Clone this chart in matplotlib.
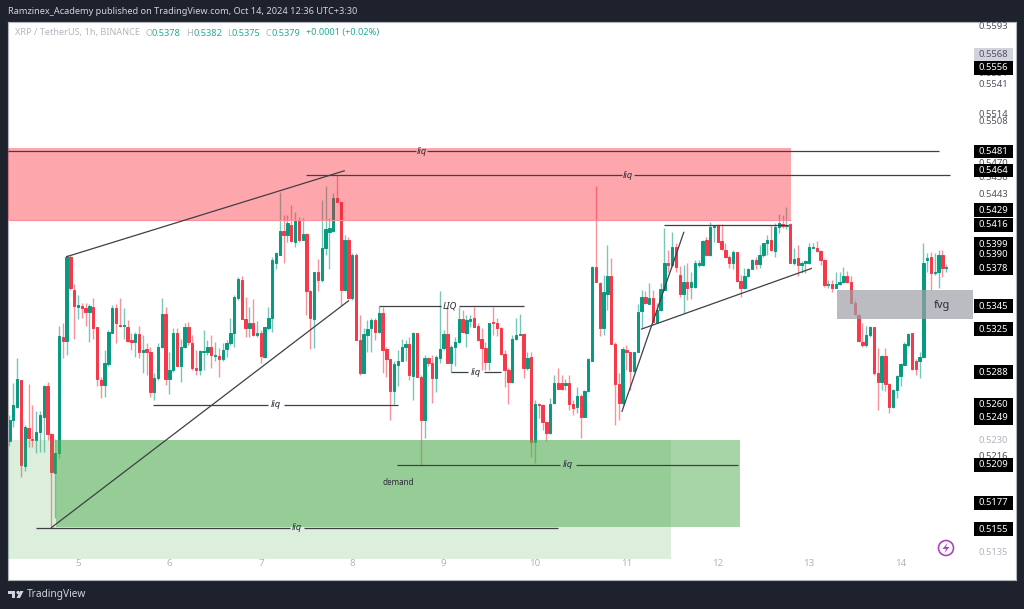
import matplotlib
matplotlib.use("Agg")
import matplotlib.pyplot as plt
from matplotlib.patches import Rectangle, Polygon, Circle
from matplotlib.ticker import NullLocator
from matplotlib.transforms import blended_transform_factory
import numpy as np

plt.rcParams['font.family'] = ['Noto Sans', 'DejaVu Sans']

# XRP/USDT 1h, one candle per hour starting on the 4th at 06:00
first_day = 4.25
opens = [
 .5229,.5247,.5258,.5281,.5208,.5240,.5231,.5230,.5237,.5250,.5276,.5235,.5202,.5219,.5318,.5315,.5388,.5359,.5344,.5345,
 .5343,.5340,.5344,.5327,.5281,.5277,.5295,.5322,.5343,.5329,.5328,.5327,.5316,.5314,.5321,.5305,.5308,.5305,.5271,.5283,
 .5310,.5338,.5282,.5290,.5322,.5293,.5310,.5327,.5313,.5292,.5290,.5305,.5305,.5310,.5302,.5302,.5299,.5308,.5313,.5322,
 .5352,.5368,.5334,.5326,.5330,.5320,.5322,.5301,.5326,.5335,.5383,.5390,.5411,.5407,.5416,.5401,.5420,.5403,.5408,.5358,
 .5334,.5375,.5368,.5396,.5410,.5411,.5440,.5436,.5359,.5403,.5352,.5390,.5316,.5287,.5320,.5326,.5333,.5323,.5339,.5308,
 .5299,.5272,.5294,.5298,.5310,.5312,.5285,.5322,.5284,.5247,.5300,.5296,.5283,.5300,.5309,.5321,.5296,.5310,.5314,.5334,
 .5322,.5332,.5335,.5328,.5317,.5309,.5297,.5331,.5330,.5326,.5304,.5290,.5280,.5317,.5320,.5321,.5292,.5301,.5228,.5261,
 .5260,.5245,.5236,.5262,.5279,.5279,.5277,.5279,.5261,.5258,.5268,.5250,.5272,.5298,.5379,.5365,.5326,.5356,.5371,.5312,
 .5278,.5262,.5307,.5305,.5289,.5305,.5341,.5353,.5347,.5352,.5331,.5342,.5359,.5383,.5381,.5397,.5372,.5356,.5366,.5362,
 .5362,.5381,.5381,.5403,.5390,.5414,.5416,.5402,.5394,.5388,.5383,.5392,.5367,.5361,.5371,.5377,.5385,.5382,.5390,.5400,
 .5403,.5393,.5414,.5417,.5415,.5417,.5383,.5387,.5381,.5383,.5383,.5396,.5396,.5393,.5385,.5363,.5364,.5361,.5364,.5366,
 .5371,.5366,.5348,.5337,.5314,.5311,.5320,.5327,.5287,.5280,.5302,.5278,.5258,.5273,.5285,.5294,.5311,.5322,.5298,.5298,
 .5301,.5385,.5388,.5374,.5375,.5390,.5378]
highs = [
 .5251,.5279,.5300,.5281,.5243,.5278,.5260,.5255,.5255,.5277,.5280,.5236,.5231,.5328,.5330,.5390,.5390,.5364,.5355,.5348,
 .5348,.5347,.5352,.5327,.5284,.5307,.5324,.5346,.5347,.5352,.5343,.5333,.5322,.5323,.5328,.5320,.5313,.5310,.5287,.5313,
 .5352,.5344,.5305,.5326,.5326,.5317,.5330,.5331,.5320,.5307,.5307,.5324,.5316,.5320,.5314,.5309,.5313,.5316,.5335,.5355,
 .5370,.5371,.5353,.5344,.5351,.5332,.5324,.5327,.5344,.5388,.5392,.5445,.5425,.5425,.5434,.5427,.5423,.5422,.5409,.5359,
 .5375,.5386,.5438,.5450,.5422,.5444,.5460,.5436,.5407,.5405,.5391,.5391,.5337,.5326,.5333,.5335,.5335,.5345,.5344,.5310,
 .5299,.5298,.5307,.5317,.5316,.5318,.5323,.5322,.5286,.5303,.5301,.5303,.5303,.5358,.5324,.5344,.5311,.5318,.5344,.5342,
 .5337,.5337,.5344,.5330,.5326,.5314,.5330,.5344,.5335,.5327,.5307,.5292,.5320,.5335,.5338,.5322,.5305,.5305,.5264,.5262,
 .5261,.5245,.5266,.5286,.5292,.5286,.5282,.5286,.5264,.5275,.5269,.5273,.5300,.5380,.5450,.5366,.5372,.5398,.5387,.5314,
 .5287,.5310,.5311,.5305,.5305,.5347,.5359,.5358,.5365,.5359,.5348,.5365,.5413,.5394,.5410,.5400,.5380,.5381,.5383,.5375,
 .5385,.5385,.5403,.5405,.5419,.5416,.5417,.5417,.5400,.5390,.5394,.5392,.5372,.5378,.5378,.5386,.5388,.5398,.5400,.5407,
 .5416,.5418,.5426,.5425,.5432,.5418,.5396,.5398,.5384,.5385,.5400,.5400,.5402,.5394,.5386,.5368,.5368,.5375,.5375,.5379,
 .5376,.5371,.5350,.5338,.5330,.5328,.5328,.5327,.5309,.5303,.5309,.5279,.5274,.5286,.5296,.5314,.5322,.5322,.5299,.5305,
 .5400,.5391,.5392,.5391,.5394,.5394,.5382]
lows = [
 .5225,.5241,.5257,.5199,.5204,.5224,.5224,.5219,.5220,.5220,.5230,.5156,.5164,.5215,.5300,.5303,.5359,.5317,.5334,.5335,
 .5328,.5314,.5317,.5276,.5266,.5267,.5293,.5322,.5313,.5327,.5317,.5314,.5307,.5301,.5300,.5287,.5286,.5267,.5264,.5281,
 .5309,.5277,.5269,.5288,.5293,.5280,.5309,.5311,.5290,.5286,.5286,.5290,.5303,.5292,.5298,.5284,.5298,.5301,.5311,.5310,
 .5350,.5334,.5318,.5318,.5319,.5318,.5296,.5300,.5324,.5323,.5377,.5390,.5383,.5401,.5401,.5397,.5401,.5403,.5337,.5308,
 .5309,.5358,.5366,.5390,.5377,.5410,.5436,.5346,.5358,.5351,.5350,.5316,.5286,.5287,.5305,.5305,.5316,.5322,.5287,.5284,
 .5247,.5261,.5276,.5298,.5298,.5281,.5264,.5284,.5209,.5232,.5293,.5262,.5271,.5296,.5307,.5296,.5288,.5293,.5313,.5322,
 .5310,.5327,.5327,.5315,.5290,.5290,.5290,.5320,.5319,.5303,.5275,.5261,.5279,.5316,.5320,.5283,.5290,.5216,.5211,.5249,
 .5239,.5229,.5235,.5261,.5274,.5273,.5273,.5256,.5251,.5253,.5232,.5250,.5271,.5298,.5366,.5319,.5320,.5342,.5312,.5243,
 .5247,.5260,.5290,.5273,.5288,.5305,.5326,.5347,.5347,.5330,.5330,.5341,.5358,.5375,.5379,.5375,.5353,.5339,.5350,.5351,
 .5361,.5379,.5380,.5389,.5389,.5401,.5401,.5394,.5387,.5378,.5377,.5366,.5353,.5360,.5370,.5377,.5377,.5378,.5388,.5390,
 .5393,.5388,.5409,.5413,.5412,.5383,.5381,.5371,.5374,.5374,.5382,.5396,.5392,.5381,.5362,.5361,.5357,.5361,.5363,.5365,
 .5365,.5347,.5337,.5314,.5310,.5310,.5318,.5286,.5256,.5273,.5272,.5253,.5257,.5266,.5276,.5294,.5310,.5290,.5286,.5283,
 .5300,.5375,.5359,.5372,.5361,.5370,.5375]
closes = [
 .5247,.5260,.5282,.5209,.5241,.5232,.5230,.5237,.5251,.5276,.5235,.5203,.5219,.5319,.5315,.5388,.5361,.5345,.5346,.5343,
 .5340,.5345,.5326,.5282,.5277,.5296,.5323,.5343,.5330,.5328,.5329,.5315,.5314,.5321,.5305,.5307,.5305,.5271,.5283,.5310,
 .5338,.5282,.5290,.5322,.5293,.5310,.5327,.5314,.5292,.5290,.5306,.5306,.5310,.5303,.5303,.5299,.5307,.5313,.5322,.5353,
 .5369,.5334,.5326,.5330,.5320,.5322,.5302,.5327,.5335,.5385,.5391,.5411,.5407,.5418,.5402,.5420,.5403,.5408,.5358,.5335,
 .5375,.5368,.5396,.5412,.5413,.5440,.5436,.5359,.5403,.5352,.5390,.5316,.5287,.5321,.5325,.5333,.5323,.5339,.5307,.5299,
 .5272,.5295,.5298,.5310,.5312,.5286,.5322,.5284,.5247,.5300,.5296,.5283,.5301,.5308,.5321,.5296,.5310,.5314,.5334,.5323,
 .5333,.5334,.5327,.5316,.5309,.5297,.5330,.5330,.5326,.5304,.5290,.5280,.5317,.5320,.5321,.5292,.5300,.5228,.5261,.5260,
 .5245,.5236,.5261,.5279,.5274,.5274,.5279,.5261,.5257,.5268,.5250,.5272,.5299,.5379,.5366,.5326,.5357,.5371,.5312,.5278,
 .5262,.5308,.5305,.5289,.5305,.5340,.5353,.5348,.5352,.5331,.5342,.5360,.5383,.5381,.5397,.5379,.5356,.5366,.5361,.5366,
 .5383,.5383,.5402,.5390,.5414,.5415,.5401,.5395,.5388,.5383,.5392,.5367,.5361,.5371,.5377,.5385,.5382,.5390,.5400,.5403,
 .5394,.5414,.5418,.5415,.5416,.5383,.5386,.5381,.5383,.5384,.5397,.5397,.5393,.5385,.5363,.5364,.5361,.5364,.5366,.5371,
 .5366,.5348,.5338,.5315,.5311,.5320,.5327,.5287,.5280,.5302,.5278,.5258,.5273,.5285,.5295,.5312,.5321,.5291,.5291,.5301,
 .5383,.5387,.5374,.5375,.5390,.5378,.5379]

# drawn zones: day from, day to, price low, price high
supply_zone = (4.2, 12.80, .5420, .5484)
demand_dark = (4.76, 12.24, .5157, .5230)
demand_light = (4.2, 11.49, .5130, .5230)
fvg_zone = (13.30, 14.79, .5334, .5359)

# trend lines (day, price, day, price)
trend_lines = [
    (4.869, .5388, 7.92, .5464),
    (4.705, .5156, 7.965, .5350),
    (10.95, .5254, 11.63, .5410),
    (11.16, .5325, 13.03, .5378),
    (11.41, .5416, 12.77, .5416),
]
# horizontal lines with a label in a gap: price, day from, gap from, gap to, day to, text
liq_lines = [
    (.5481, 4.234, 8.70, 8.82, 14.42, 'liq'),
    (.5460, 7.495, 10.95, 11.08, 14.54, 'liq'),
    (.5345, 8.293, 8.97, 9.17, 9.88, 'LIQ'),
    (.5288, 9.08, 9.27, 9.44, 9.63, 'liq'),
    (.5260, 5.82, 7.08, 7.25, 8.50, 'liq'),
    (.5209, 8.49, 10.27, 10.45, 12.22, 'liq'),
    (.5156, 4.54, 7.32, 7.47, 10.25, 'liq'),
]

# price axis labels
plain_labels = ['0.5593', '0.5541', '0.5514', '0.5508', '0.5551', '0.5470', '0.5458', '0.5443',
                '0.5347', '0.5321', '0.5216', '0.5205']
faint_labels = ['0.5230', '0.5135']
black_labels = ['0.5556', '0.5481', '0.5464', '0.5429', '0.5416', '0.5399', '0.5390', '0.5378',
                '0.5345', '0.5325', '0.5288', '0.5260', '0.5249', '0.5209', '0.5177', '0.5155']
day_ticks = [5, 6, 7, 8, 9, 10, 11, 12, 13, 14]

W, H = 1024, 609
bg = '#1e222d'
up = '#089981'
down = '#f7374a'

fig = plt.figure(figsize=(W / 100, H / 100), dpi=100, facecolor=bg)
ax = fig.add_axes([8 / W, (H - 580) / H, 1008 / W, 558 / H])
ax.set_yscale('log')
ax.set_xlim(4.234, 15.263)
ax.set_ylim(.51125, .55975)
ax.yaxis.set_major_locator(NullLocator())
ax.yaxis.set_minor_locator(NullLocator())
ax.set_xticks(day_ticks, [str(d) for d in day_ticks])
ax.tick_params(axis='x', length=0, direction='in', pad=-15, labelsize=7, labelcolor='#b2b5be')
for s in ax.spines.values():
    s.set_color('#b2b5be')
    s.set_linewidth(0.8)

# candles
t = first_day + np.arange(len(opens)) / 24
o, h, l, c = map(np.array, (opens, highs, lows, closes))
cols = [up if b >= a else down for a, b in zip(o, c)]
ax.vlines(t, l, h, colors=cols, linewidth=1.0, alpha=0.55, zorder=2)
ax.bar(t, np.abs(c - o), bottom=np.minimum(o, c), width=0.62 / 24, color=cols,
       edgecolor=cols, linewidth=0.7, zorder=2.5)


def zone(z, color, alpha, zo=3):
    ax.add_patch(Rectangle((z[0], z[2]), z[1] - z[0], z[3] - z[2], facecolor=color,
                           alpha=alpha, edgecolor='none', zorder=zo))


zone(supply_zone, '#fa2334', 0.4)
ax.hlines(supply_zone[2], supply_zone[0], supply_zone[1], color='#f88e97', lw=0.8, zorder=3)
zone(demand_light, '#51ad51', 0.195)
zone(demand_dark, '#51ad51', 0.5)
zone(fvg_zone, '#9f9fa8', 0.7)

line_col = '#3f3f46'
for x0, y0, x1, y1 in trend_lines:
    ax.plot([x0, x1], [y0, y1], color=line_col, lw=0.9, zorder=4, solid_capstyle='butt')
for price, a, g0, g1, b, txt in liq_lines:
    ax.hlines([price, price], [a, g1], [g0, b], color=line_col, lw=0.9, zorder=4)
    ax.text((g0 + g1) / 2, price, txt, ha='center', va='center', fontsize=6.8, style='italic',
            color='#2a2e39', zorder=5)
ax.text(8.50, .5194, 'demand', ha='center', va='center', fontsize=5.8, color='#2a2e39', zorder=5)
ax.text(14.45, .5346, 'fvg', ha='center', va='center', fontsize=8, color='#2a2e39', zorder=5)

# right hand price scale
tr = blended_transform_factory(ax.transAxes, ax.transData)
lab_x = (993 - 8) / 1008
for s in plain_labels:
    ax.text(lab_x, float(s), s, transform=tr, ha='center', va='center', fontsize=6.8,
            color='#50535e', zorder=6)
for s in faint_labels:
    ax.text(lab_x, float(s), s, transform=tr, ha='center', va='center', fontsize=6.8,
            color='#b2b5be', zorder=6)


def price_box(price, color, zo):
    # box of fixed pixel size on the scale
    yd = ax.transData.transform((5, price))[1]
    ax.add_patch(Rectangle((974, yd - 6.8), 39, 13.6, transform=None, fc=color, ec='none',
                           zorder=zo, clip_on=False))


price_box(.5568, '#d1d4dc', 7)
ax.text(lab_x, .5568, '0.5568', transform=tr, ha='center', va='center', fontsize=6.8, color='#50535e',
        zorder=7.5)
for s in black_labels:
    price_box(float(s), 'black', 8)
for s in black_labels:
    ax.text(lab_x, float(s), s, transform=tr, ha='center', va='center', fontsize=6.8, color='white',
            zorder=9)

# replay badge
ax.add_patch(Circle((946, H - 548), 7.5, transform=None, fc='none', ec='#ab47bc', lw=1.2, zorder=7))
ax.add_patch(Polygon([(947.5, H - 543), (942.5, H - 549), (946, H - 549), (944.5, H - 553),
                      (949.5, H - 547), (946, H - 547)], closed=True, transform=None,
                     fc='#ab47bc', ec='none', zorder=7))


def fx(x):
    return x / W


def fy(y):
    return 1 - y / H


# header and legend
fig.text(fx(8), fy(12), 'Ramzinex_Academy published on TradingView.com, Oct 14, 2024 12:36 UTC+3:30',
         color='#d1d4dc', fontsize=6.6, va='center')
grey = '#b2b5be'
teal = '#22ab94'
fig.text(fx(15), fy(33), 'XRP / TetherUS, 1h, BINANCE', color=grey, fontsize=6.6, va='center')
legend_bits = [(146, 'O', grey), (152, '0.5378', teal), (186, 'H', grey), (193, '0.5382', teal),
               (227, 'L', grey), (232, '0.5375', teal), (266, 'C', grey), (272, '0.5379', teal),
               (306, '+0.0001 (+0.02%)', teal)]
for x, s, col in legend_bits:
    fig.text(fx(x), fy(33), s, color=col, fontsize=6.6, va='center')

# footer logo
logo = '#d1d4dc'
for pts in ([(8, 591), (15, 591), (15, 598), (11.5, 598), (11.5, 594), (8, 594)],
            [(20, 591), (23.5, 591), (20, 598), (16.5, 598)]):
    fig.add_artist(Polygon([(fx(a), fy(b)) for a, b in pts], closed=True, transform=fig.transFigure,
                           fc=logo, ec='none'))
fig.add_artist(Circle((18, H - 592.5), 1.6, transform=None, fc=logo, ec='none'))
fig.text(fx(27), fy(595), 'TradingView', color=logo, fontsize=7.3, va='center')

fig.savefig('out.png', dpi=100, facecolor=bg)
